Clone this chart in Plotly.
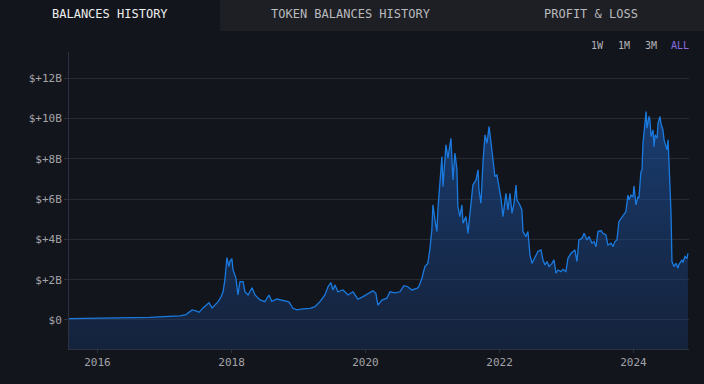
import plotly.graph_objects as go

dates = [
"2015-07-30","2016-01-15","2016-06-27","2016-10-14","2017-01-25","2017-03-26","2017-04-28","2017-05-31",
"2017-06-21","2017-07-08","2017-07-30","2017-08-15","2017-08-31","2017-09-17","2017-10-03","2017-10-19",
"2017-11-05","2017-11-16","2017-11-26","2017-12-07","2017-12-18","2017-12-23","2018-01-03","2018-01-09",
"2018-01-25","2018-02-05","2018-02-16","2018-03-05","2018-03-15","2018-04-01","2018-04-23","2018-05-09",
"2018-06-05","2018-07-02","2018-07-24","2018-08-09","2018-09-05","2018-10-08","2018-11-10","2018-12-02",
"2018-12-24","2019-01-25","2019-03-05","2019-04-01","2019-04-28","2019-05-25","2019-06-11","2019-06-27",
"2019-07-08","2019-07-19","2019-08-04","2019-09-01","2019-09-28","2019-10-25","2019-11-21","2019-12-19",
"2020-01-15","2020-02-11","2020-02-27","2020-03-09","2020-03-31","2020-04-27","2020-05-14","2020-06-10",
"2020-07-07","2020-07-29","2020-08-19","2020-09-10","2020-10-08","2020-10-18","2020-11-04","2020-11-20",
"2020-12-06","2020-12-17","2020-12-28","2021-01-03","2021-01-14","2021-01-25","2021-01-30","2021-02-10",
"2021-02-21","2021-02-27","2021-03-15","2021-03-26","2021-03-31","2021-04-11","2021-04-22","2021-05-03",
"2021-05-14","2021-05-19","2021-05-30","2021-06-10","2021-06-16","2021-07-02","2021-07-13","2021-07-29",
"2021-08-09","2021-08-26","2021-09-06","2021-09-11","2021-09-22","2021-10-03","2021-10-14","2021-10-25",
"2021-11-05","2021-11-16","2021-11-27","2021-12-07","2021-12-18","2021-12-29","2022-01-09","2022-01-20",
"2022-02-05","2022-02-16","2022-02-27","2022-03-10","2022-03-21","2022-04-01","2022-04-06","2022-04-22",
"2022-05-03","2022-05-09","2022-05-25","2022-06-05","2022-06-16","2022-06-27","2022-07-13","2022-07-29",
"2022-08-15","2022-08-26","2022-09-06","2022-09-17","2022-09-28","2022-10-14","2022-10-25","2022-11-05",
"2022-11-16","2022-12-02","2022-12-13","2022-12-29","2023-01-09","2023-01-26","2023-02-06","2023-02-16",
"2023-02-27","2023-03-10","2023-03-27","2023-04-07","2023-04-23","2023-05-04","2023-05-20","2023-05-31",
"2023-06-11","2023-06-22","2023-07-08","2023-07-19","2023-08-04","2023-08-15","2023-09-01","2023-09-12",
"2023-09-22","2023-10-03","2023-10-14","2023-10-31","2023-11-11","2023-11-21","2023-12-02","2023-12-08",
"2023-12-19","2023-12-30","2024-01-04","2024-01-15","2024-01-26","2024-01-31","2024-02-11","2024-02-17",
"2024-02-22","2024-03-04","2024-03-10","2024-03-15","2024-03-26","2024-03-31","2024-04-06","2024-04-17",
"2024-04-22","2024-04-28","2024-05-09","2024-05-14","2024-05-25","2024-05-30","2024-06-10","2024-06-16",
"2024-06-27","2024-07-02","2024-07-08","2024-07-13","2024-07-18","2024-07-24","2024-07-29","2024-08-09",
"2024-08-20","2024-08-31","2024-09-05","2024-09-22","2024-09-27","2024-10-08","2024-10-19","2024-10-24",
]

balance_b = [
0.07,0.08,0.10,0.13,0.18,0.20,0.27,0.50,
0.45,0.38,0.60,0.74,0.86,0.60,0.75,0.90,
1.15,1.40,2.00,3.10,2.65,2.90,3.05,2.50,
2.08,1.24,1.90,1.90,1.40,1.24,1.60,1.24,
1.00,0.91,1.24,0.92,1.04,0.96,0.90,0.58,
0.50,0.55,0.58,0.66,0.91,1.24,1.65,1.85,
1.49,1.74,1.40,1.49,1.24,1.40,1.03,1.16,
1.30,1.45,1.32,0.74,0.99,1.08,1.40,1.35,
1.40,1.70,1.65,1.49,1.57,1.65,2.07,2.65,
2.81,3.48,4.47,5.71,4.97,4.39,5.46,6.62,
8.11,6.62,8.69,8.03,8.36,9.02,6.95,8.28,
7.45,5.63,5.13,5.71,4.80,5.13,4.30,5.87,
6.70,6.95,7.45,6.45,5.79,7.86,9.19,8.77,
9.60,8.77,8.03,7.12,7.20,6.62,6.04,5.13,
6.29,5.46,6.29,5.30,5.79,6.70,5.96,5.71,
5.46,4.39,4.14,4.39,3.23,2.81,3.15,3.40,
3.48,2.98,2.73,2.90,2.65,2.81,2.98,2.32,
2.48,2.40,2.51,2.40,3.06,3.31,3.40,3.48,
2.90,3.97,4.06,4.30,3.97,4.14,3.81,3.89,
3.64,4.39,4.44,4.30,4.22,3.72,3.81,3.64,
3.89,3.97,4.88,5.13,5.30,5.38,6.20,5.96,
6.20,6.10,6.65,5.71,6.12,6.05,7.36,7.45,
8.77,9.68,10.34,9.52,10.10,9.93,9.10,9.43,
8.60,9.19,9.02,9.76,10.10,9.76,9.43,8.94,
8.52,8.44,8.94,7.86,5.96,5.30,2.90,2.65,
2.81,2.57,2.75,2.98,2.85,3.15,3.05,3.31,
]

y_ticks = [0, 2, 4, 6, 8, 10, 12]
y_tick_labels = ["$0", "$+2B", "$+4B", "$+6B", "$+8B", "$+10B", "$+12B"]
x_ticks = ["2016-01-01", "2018-01-01", "2020-01-01", "2022-01-01", "2024-01-01"]
x_tick_labels = ["2016", "2018", "2020", "2022", "2024"]
tabs = ["BALANCES HISTORY", "TOKEN BALANCES HISTORY", "PROFIT & LOSS"]
ranges = ["1W", "1M", "3M", "ALL"]

Y_MIN, Y_MAX = -1.44, 13.3
X_RANGE = ["2015-07-30", "2024-10-30"]
BG = "#13151c"
MONO = "DejaVu Sans Mono"

fig = go.Figure()
fig.add_trace(go.Scatter(x=[dates[0], dates[-1]], y=[Y_MIN, Y_MIN], mode="lines",
                         line=dict(width=0), hoverinfo="skip", showlegend=False))
fig.add_trace(go.Scatter(
    x=dates, y=balance_b, mode="lines", fill="tonexty",
    line=dict(color="#1a7ae0", width=1.3),
    fillgradient=dict(type="vertical",
                      colorscale=[[0, "rgba(24,60,120,0.35)"], [1, "rgba(30,95,185,0.55)"]]),
    showlegend=False, hoverinfo="skip"))

fig.update_layout(
    width=704, height=384, autosize=False,
    paper_bgcolor=BG, plot_bgcolor=BG,
    margin=dict(l=69, r=15, t=52, b=35),
    font=dict(family=MONO, color="#a3a4a9", size=11),
    showlegend=False,
)
fig.update_xaxes(range=X_RANGE, tickvals=x_ticks, ticktext=x_tick_labels,
                 showgrid=False, showline=True, linecolor="#2c3142", linewidth=1,
                 ticks="outside", ticklen=3, tickcolor="#2c3142",
                 tickfont=dict(family=MONO, size=11, color="#a3a4a9"), zeroline=False)
fig.update_yaxes(range=[Y_MIN, Y_MAX], tickvals=y_ticks, ticktext=y_tick_labels,
                 showgrid=True, gridcolor="#2a2b30", gridwidth=1,
                 showline=True, linecolor="#2c3142", linewidth=1,
                 ticks="outside", ticklen=4, tickcolor="#2c3142",
                 tickfont=dict(family=MONO, size=11, color="#a3a4a9"), zeroline=False)

# tab strip
fig.add_shape(type="rect", xref="paper", yref="paper", x0=(220-69)/620, x1=(704-69)/620,
              y0=1+(52-31)/297, y1=1+52/297, fillcolor="#1e1f24", line=dict(width=0), layer="below")
tab_x = [110, 351, 591]
tab_col = ["#eeeeef", "#b9babe", "#b9babe"]
for t, px, c in zip(tabs, tab_x, tab_col):
    fig.add_annotation(text=t, xref="paper", yref="paper", x=(px-69)/620, y=1+(52-14)/297,
                       showarrow=False, xanchor="center", yanchor="middle",
                       font=dict(family=MONO, size=12, color=c))
btn_x = [597, 624, 651, 680]
btn_col = ["#b3b4b8", "#b3b4b8", "#b3b4b8", "#8a6ee0"]
for t, px, c in zip(ranges, btn_x, btn_col):
    fig.add_annotation(text=t, xref="paper", yref="paper", x=(px-69)/620, y=1+(52-45)/297,
                       showarrow=False, xanchor="center", yanchor="middle",
                       font=dict(family=MONO, size=10, color=c))

fig.write_html("out.html", config={"displayModeBar": False},
               post_script="document.body.style.margin='0';document.body.style.background='%s';" % BG)
